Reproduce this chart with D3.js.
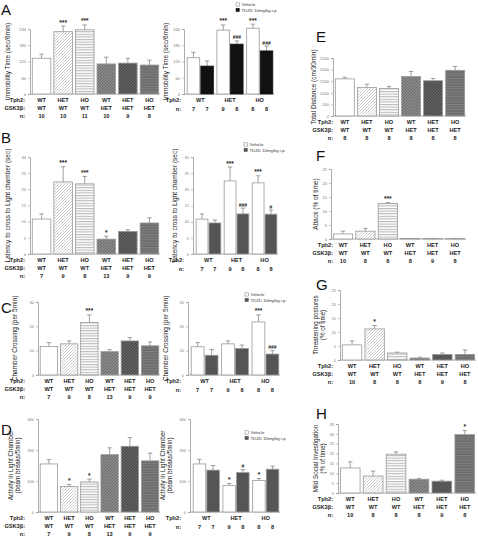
<!DOCTYPE html>
<html><head><meta charset="utf-8">
<script src="https://cdn.jsdelivr.net/npm/d3@7"></script>
<style>body{margin:0;background:#fff} svg{display:block} text{font-family:"Liberation Sans",Arial,sans-serif}</style>
</head><body><svg id="c" width="478" height="539"></svg>
<script>
// ---------- data ----------
const tph2Six = ["WT","HET","HO","WT","HET","HO"];
const gskSix = ["WT","WT","WT","HET","HET","HET"];
const tph2Three = ["WT","HET","HO"];
const legendLabels = ["Vehicle","TDZD 10mg/kg i.p."];

const aLeftMean = [132,230,237,111,114,107];
const aLeftSem  = [15,21,18,25,18,18];
const aLeftN    = [10,10,11,10,9,8];
const aLeftSig  = ["","***","***","","",""];
const aVehMean = [134,236,243], aVehSem = [20,19,15];
const aTdzMean = [103,184,159], aTdzSem = [19,12,18];
const aRightN = [7,7,9,8,8,8];
const aRightSig = ["","","***","###","***","###"];

const bLeftMean = [10.8,22.3,21.7,4.6,7.0,9.6];
const bLeftSem  = [1.6,4.7,2.3,0.9,0.5,1.6];
const bLeftN    = [7,9,8,13,9,9];
const bLeftSig  = ["","***","***","*","",""];
const bVehMean = [10.8,22.6,22.0], bVehSem = [1.6,4.3,2.2];
const bTdzMean = [9.6,12.4,12.3], bTdzSem = [0.9,1.8,1.3];
const bRightN = [7,7,9,8,8,8];
const bRightSig = ["","","***","###","***","#"];

const cLeftMean = [11.7,12.8,21.6,9.6,14.0,12.0];
const cLeftSem  = [1.6,1.2,3.1,0.8,1.4,1.6];
const cLeftN    = [7,9,8,13,9,9];
const cLeftSig  = ["","","***","","",""];
const cVehMean = [11.6,12.8,21.8], cVehSem = [1.7,1.2,2.9];
const cTdzMean = [8.1,10.9,8.6], cTdzSem = [2.4,1.4,1.4];
const cRightN = [7,7,9,8,8,8];
const cRightSig = ["","","","","***","###"];

const dLeftMean = [155,82,97,185,212,165];
const dLeftSem  = [14,7,9,22,28,25];
const dLeftN    = [7,9,8,13,9,9];
const dLeftSig  = ["","*","*","","",""];
const dVehMean = [155,85,102], dVehSem = [15,7,6];
const dTdzMean = [135,127,138], dTdzSem = [15,10,10];
const dRightN = [7,7,9,8,8,8];
const dRightSig = ["","","*","#","*",""];

const eMean = [1600,1230,1190,1700,1520,1970];
const eSem  = [70,140,80,220,100,170];
const eN    = [8,8,8,8,8,8];

const fMean = [1.8,2.8,12.7,0.15,0.1,0.1];
const fSem  = [1.0,1.0,0.3,0.05,0.05,0.05];
const fN    = [10,8,8,8,9,8];
const fSig  = ["","","***","","",""];

const gMean = [5.4,11.1,2.5,0.7,2.0,2.0];
const gSem  = [1.4,1.2,0.3,0.3,0.5,1.6];
const gN    = [10,8,8,8,9,8];
const gSig  = ["","*","","","",""];

const hMean = [12.7,8.6,19.7,7.0,6.0,29.6];
const hSem  = [3.1,2.5,1.2,0.3,0.5,2.1];
const hN    = [10,8,8,8,9,8];
const hSig  = ["","","","","","*"];

// ---------- drawing ----------
const svg = d3.select("#c");
const defs = svg.append("defs");
function pattern(id, bg, stroke, kind, sw){
  const p = defs.append("pattern").attr("id",id).attr("patternUnits","userSpaceOnUse")
    .attr("width",3).attr("height",3);
  p.append("rect").attr("width",3).attr("height",3).attr("fill",bg);
  if(kind==="diag"){
    p.append("path").attr("d","M-1,1 l2,-2 M0,3 l3,-3 M2,4 l2,-2").attr("stroke",stroke).attr("stroke-width",sw);
  } else {
    p.attr("height",2.6);
    p.select("rect").attr("height",2.6);
    p.append("line").attr("x1",0).attr("x2",3).attr("y1",0.6).attr("y2",0.6).attr("stroke",stroke).attr("stroke-width",sw);
  }
}
pattern("pHetWT","#fff","#aaa","diag",0.6);
pattern("pHoWT","#fff","#aaa","h",0.9);
pattern("pWtHet","#8a8a8a","#5a5a5a","diag",0.7);
pattern("pHetHet","#4e4e4e","#777","diag",0.7);
pattern("pHoHet","#6a6a6a","#8c8c8c","h",0.8);
const sixFills = ["#fff","url(#pHetWT)","url(#pHoWT)","url(#pWtHet)","url(#pHetHet)","url(#pHoHet)"];

const FONT = '"Liberation Sans",Arial,sans-serif';

function drawPanel(c){
  const g = svg.append("g");
  const y = d3.scaleLinear().domain([0,c.max]).range([c.y0,c.yTop]);
  const ax = d3.axisLeft(y).tickValues(d3.range(0,c.max+0.001,c.step)).tickSize(2).tickPadding(2)
    .tickFormat(d3.format("d"));
  const ag = g.append("g").attr("transform",`translate(${c.axisX},0)`).call(ax);
  ag.select(".domain").attr("stroke","#999").attr("stroke-width",0.8);
  ag.selectAll(".tick line").attr("stroke","#999").attr("stroke-width",0.6);
  ag.selectAll(".tick text").attr("font-size",4).attr("fill","#777").attr("font-family",FONT);
  g.append("line").attr("x1",c.axisX).attr("x2",c.right).attr("y1",c.y0).attr("y2",c.y0)
    .attr("stroke","#999").attr("stroke-width",0.8);
  let xs;
  if(c.paired){
    const gx = d3.scaleBand().domain(d3.range(3)).range([c.axisX+2,c.right]).paddingInner(c.gpad||0.12).paddingOuter(0.04);
    const ix = d3.scaleBand().domain([0,1]).range([0,gx.bandwidth()]).paddingInner(0.08);
    xs = [];
    for(let i=0;i<3;i++) for(let j=0;j<2;j++) xs.push({x:gx(i)+ix(j), w:ix.bandwidth(), gc:gx(i)+gx.bandwidth()/2});
  } else {
    const bx = d3.scaleBand().domain(d3.range(6)).range([c.axisX+1,c.right]).paddingInner(c.pad||0.14).paddingOuter(0.06);
    xs = d3.range(6).map(i=>({x:bx(i), w:bx.bandwidth()}));
  }
  const data = c.means.map((m,i)=>({m, s:c.sems[i], fill:c.fills[i], sig:c.sigs?c.sigs[i]:"", x:xs[i].x, w:xs[i].w}));
  g.selectAll(".eb").data(data).join("g").each(function(d){
    const cx = d.x + d.w/2, top = y(d.m + d.s);
    const s = d3.select(this);
    s.append("line").attr("x1",cx).attr("x2",cx).attr("y1",y(d.m)).attr("y2",top).attr("stroke","#888").attr("stroke-width",0.8);
    s.append("line").attr("x1",cx-2.2).attr("x2",cx+2.2).attr("y1",top).attr("y2",top).attr("stroke","#888").attr("stroke-width",0.8);
    if(d.sig){
      s.append("text").attr("x",cx).attr("y",top-1.5).attr("text-anchor","middle")
        .attr("font-size",d.sig[0]==="#"?5:6.5).attr("font-weight","bold").attr("fill","#222").text(d.sig);
    }
  });
  g.selectAll(".bar").data(data).join("rect")
    .attr("x",d=>d.x).attr("width",d=>d.w)
    .attr("y",d=>y(d.m)).attr("height",d=>c.y0-y(d.m))
    .attr("fill",d=>d.fill).attr("stroke",d=>d.fill==="#111"?"#111":"#999").attr("stroke-width",0.8);
  c.rows.forEach(r=>{
    g.append("text").attr("x",c.rowLabelX).attr("y",r.y).attr("text-anchor","end")
      .attr("font-size",5.6).attr("font-weight","bold").attr("fill","#222").text(r.label);
    const centers = r.group ? [0,2,4].map(i=>xs[i].gc) : xs.map(d=>d.x+d.w/2);
    r.values.forEach((v,i)=>{
      g.append("text").attr("x",centers[i]).attr("y",r.y).attr("text-anchor","middle")
        .attr("font-size",5.6).attr("font-weight","bold").attr("fill","#222").text(v);
    });
  });
  const ly = (c.y0 + c.yTop)/2;
  const lt = g.append("text").attr("transform",`translate(${c.labelX},${ly}) rotate(-90)`)
    .attr("text-anchor","middle").attr("font-size",c.labelSize||6.5).attr("fill","#222");
  c.ylabel.forEach((t,i)=>lt.append("tspan").attr("x",0).attr("dy",i===0?0:c.labelSize?c.labelSize+1:7.5).text(t));
  if(c.letter){
    g.append("text").attr("x",c.letter[1]).attr("y",c.letter[2]).attr("font-size",15).attr("fill","#111").text(c.letter[0]);
  }
  if(c.legend){
    const [lx,ly2] = c.legend;
    legendLabels.forEach((t,i)=>{
      g.append("rect").attr("x",lx).attr("y",ly2+i*5.5-3.2).attr("width",3.3).attr("height",3.3)
        .attr("fill",i===0?"#fff":c.tdzFill).attr("stroke",i===0?"#777":c.tdzFill).attr("stroke-width",0.5);
      g.append("text").attr("x",lx+5.5).attr("y",ly2+i*5.5).attr("font-size",4.3).attr("fill","#333").text(t);
    });
  }
}

function pair(veh, tdz){ return [veh[0],tdz[0],veh[1],tdz[1],veh[2],tdz[2]]; }
function sixRows(y0, n){
  return [{label:"Tph2:", values:tph2Six, y:y0+8},{label:"GSK3\u03b2:", values:gskSix, y:y0+16},{label:"n:", values:n, y:y0+24}];
}
function pairRows(y0, n){
  return [{label:"Tph2:", values:tph2Three, y:y0+8, group:true},{label:"n:", values:n, y:y0+17}];
}

// A
drawPanel({axisX:30,right:160,y0:94,yTop:29,max:240,step:60,means:aLeftMean,sems:aLeftSem,sigs:aLeftSig,fills:sixFills,
  rows:sixRows(94,aLeftN),rowLabelX:25,ylabel:["Immobility Time (sec/6min)"],labelX:10,letter:["A",1,15]});
drawPanel({axisX:184,right:274,y0:94,yTop:29,max:240,step:60,paired:true,means:pair(aVehMean,aTdzMean),sems:pair(aVehSem,aTdzSem),
  sigs:aRightSig,fills:["#fff","#111","#fff","#111","#fff","#111"],rows:pairRows(94,aRightN),rowLabelX:181,
  ylabel:["Immobility Time (sec/6min)"],labelX:168,legend:[236,6],tdzFill:"#111"});
// B
drawPanel({axisX:30,right:160,y0:254,yTop:157,max:30,step:5,means:bLeftMean,sems:bLeftSem,sigs:bLeftSig,fills:sixFills,
  rows:sixRows(254,bLeftN),rowLabelX:25,ylabel:["Latency to cross to Light chamber (sec)"],labelX:10,letter:["B",1,143]});
drawPanel({axisX:193,right:278,y0:254,yTop:157,max:30,step:5,paired:true,means:pair(bVehMean,bTdzMean),sems:pair(bVehSem,bTdzSem),
  sigs:bRightSig,fills:["#fff","#555","#fff","#555","#fff","#555"],rows:pairRows(254,bRightN),rowLabelX:184,
  ylabel:["Latency to cross to Light chamber (sec)"],labelX:177,legend:[244,146],tdzFill:"#555"});
// C
drawPanel({axisX:38,right:160,y0:375,yTop:302,max:30,step:10,means:cLeftMean,sems:cLeftSem,sigs:cLeftSig,fills:sixFills,
  rows:sixRows(375,cLeftN),rowLabelX:25,ylabel:["Chamber Crossing (per 5min)"],labelX:17,letter:["C",1,313]});
drawPanel({axisX:188,right:280,y0:375,yTop:302,max:30,step:10,paired:true,means:pair(cVehMean,cTdzMean),sems:pair(cVehSem,cTdzSem),
  sigs:cRightSig,fills:["#fff","#555","#fff","#555","#fff","#555"],rows:pairRows(375,cRightN),rowLabelX:181,
  ylabel:["Chamber Crossing (per 5min)"],labelX:168,legend:[245,296],tdzFill:"#555"});
// D
drawPanel({axisX:38,right:160,y0:512,yTop:419,max:300,step:100,means:dLeftMean,sems:dLeftSem,sigs:dLeftSig,fills:sixFills,
  rows:sixRows(512,dLeftN),rowLabelX:25,ylabel:["Activity in Light Chamber","(beam breaks/5min)"],labelSize:6.3,labelX:13,letter:["D",1,435]});
drawPanel({axisX:190,right:280,y0:512,yTop:419,max:300,step:100,paired:true,means:pair(dVehMean,dTdzMean),sems:pair(dVehSem,dTdzSem),
  sigs:dRightSig,fills:["#fff","#555","#fff","#555","#fff","#555"],rows:pairRows(512,dRightN),rowLabelX:181,
  ylabel:["Activity in Light Chamber","(beam breaks/5min)"],labelSize:6.3,labelX:165,legend:[245,434],tdzFill:"#555"});
// E
drawPanel({axisX:333,right:466,y0:116,yTop:58,max:2500,step:500,means:eMean,sems:eSem,sigs:null,fills:sixFills,
  rows:sixRows(116,eN),rowLabelX:333,ylabel:["Total Distance (cm/30min)"],labelX:316,letter:["E",316,42]});
// F
drawPanel({axisX:331,right:466,y0:239,yTop:169,max:25,step:5,means:fMean,sems:fSem,sigs:fSig,fills:sixFills,
  rows:sixRows(239,fN),rowLabelX:333,ylabel:["Attack (% of time)"],labelX:318,letter:["F",316,161]});
// G
drawPanel({axisX:340,right:476,y0:360,yTop:290,max:25,step:5,means:gMean,sems:gSem,sigs:gSig,fills:sixFills,
  rows:sixRows(360,gN),rowLabelX:333,ylabel:["Threatening postures","(% of time)"],labelSize:6.3,labelX:318,letter:["G",316,290]});
// H
drawPanel({axisX:338,right:476,y0:493,yTop:424,max:35,step:5,means:hMean,sems:hSem,sigs:hSig,fills:sixFills,
  rows:sixRows(493,hN),rowLabelX:333,ylabel:["Mild Social Investigation","(% of time)"],labelSize:6.3,labelX:318,letter:["H",316,419]});
</script></body></html>
